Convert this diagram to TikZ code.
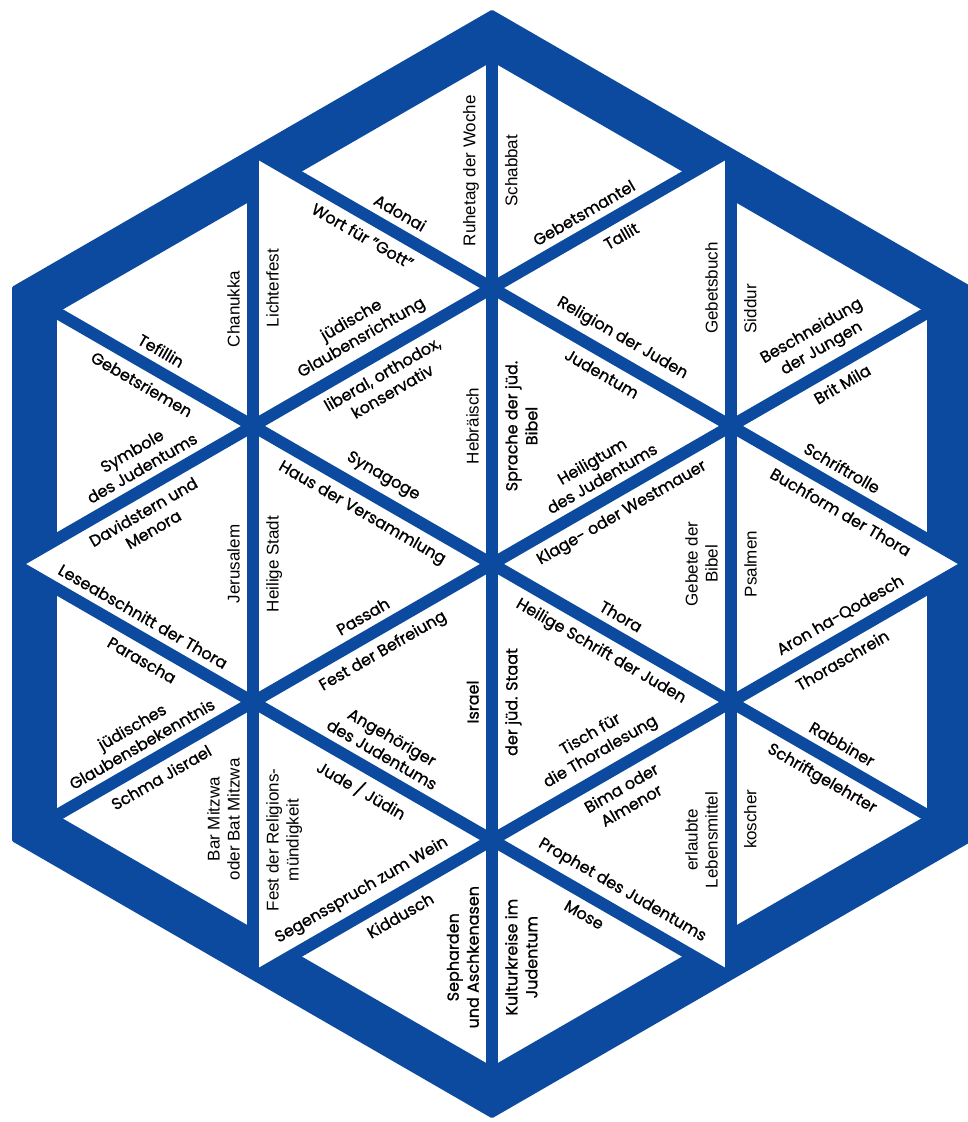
\documentclass[tikz,border=0pt]{standalone}
\usepackage{fontspec}
\setmainfont{Poppins}[FakeBold=1.0]
\newfontfamily\arialfam{Liberation Sans}
\usetikzlibrary{calc}
\definecolor{hexblue}{RGB}{12,74,160}
\newcounter{labc}
\newcommand\lab[7]{\stepcounter{labc}%
  \node[lab,#6,rotate=#4,anchor=#5] (lab\arabic{labc}) at ($(#1)!0.5!(#2)!13pt!(#3)$) {#7};}
\begin{document}
\begin{tikzpicture}[x=1pt,y=-1pt,
  lab/.style={inner sep=0pt, align=center, text=black, font=\fontsize{16}{20}\selectfont},
  arl/.style={font=\arialfam\fontsize{17}{20}\selectfont},
  gridline/.style={hexblue, line width=12pt},
  band/.style={hexblue, line width=86pt}]
\useasboundingbox (0,0) rectangle (968,1122);
\fill[white] (0,0) rectangle (968,1122);
\clip (0,0) rectangle (968,1122);
% grid points
\coordinate (T) at (492,12);
\coordinate (A1) at (253,150);
\coordinate (A3) at (731,150);
\coordinate (L1) at (14,288);
\coordinate (M2a) at (492,288);
\coordinate (R1) at (970,288);
\coordinate (X1b) at (253,426);
\coordinate (X3b) at (731,426);
\coordinate (L2) at (14,564);
\coordinate (C) at (492,564);
\coordinate (R2) at (970,564);
\coordinate (X1c) at (253,702);
\coordinate (X3c) at (731,702);
\coordinate (L3) at (14,840);
\coordinate (M2c) at (492,840);
\coordinate (R3) at (970,840);
\coordinate (X1d) at (253,978);
\coordinate (X3d) at (731,978);
\coordinate (B) at (492,1116);
% shifted points (visible part of outer triangles)
\coordinate (Ts) at ($(T)!44pt!(M2a)$);
\coordinate (A1s1) at ($(A1)!44pt!(M2a)$);
\coordinate (A3s2) at ($(A3)!44pt!(M2a)$);
\coordinate (A3s7) at ($(A3)!44pt!(X3b)$);
\coordinate (R1s) at ($(R1)!44pt!(X3b)$);
\coordinate (R2s8) at ($(R2)!44pt!(X3b)$);
\coordinate (R2s12) at ($(R2)!44pt!(X3c)$);
\coordinate (R3s) at ($(R3)!44pt!(X3c)$);
\coordinate (X3ds13) at ($(X3d)!44pt!(X3c)$);
\coordinate (X3ds15) at ($(X3d)!44pt!(M2c)$);
\coordinate (Bs) at ($(B)!44pt!(M2c)$);
\coordinate (X1ds16) at ($(X1d)!44pt!(M2c)$);
\coordinate (X1ds22) at ($(X1d)!44pt!(X1c)$);
\coordinate (L3s) at ($(L3)!44pt!(X1c)$);
\coordinate (L2s21) at ($(L2)!44pt!(X1c)$);
\coordinate (L2s24) at ($(L2)!44pt!(X1b)$);
\coordinate (L1s) at ($(L1)!44pt!(X1b)$);
\coordinate (A1s23) at ($(A1)!44pt!(X1b)$);
% hexagon
\begin{scope}
\clip (T)--(R1)--(R3)--(B)--(L3)--(L1)--cycle;
\fill[white] (T)--(R1)--(R3)--(B)--(L3)--(L1)--cycle;
\draw[gridline] (A1)--(X1d);
\draw[gridline] (T)--(B);
\draw[gridline] (A3)--(X3d);
\draw[gridline] (A1)--(R2);
\draw[gridline] (L1)--(R3);
\draw[gridline] (L2)--(X3d);
\draw[gridline] (L2)--(A3);
\draw[gridline] (L3)--(R1);
\draw[gridline] (X1d)--(R2);
\foreach \p/\q/\r in {T/A1/M2a, T/A3/M2a, A3/R1/X3b, R1/R2/X3b, R2/R3/X3c, R3/X3d/X3c,
                     X3d/B/M2c, B/X1d/M2c, X1d/L3/X1c, L3/L2/X1c, L2/L1/X1b, L1/A1/X1b}{
  \begin{scope}
  \clip (\p)--(\q)--(\r)--cycle;
  \draw[band] (\p)--(\q);
  \end{scope}
}
\end{scope}
\draw[hexblue, line width=4pt, line join=round] (T)--(R1)--(R3)--(B)--(L3)--(L1)--cycle;
% labels
% Tri 1
\lab{A1s1}{M2a}{T}{-30}{south}{}{Adonai}
\lab{Ts}{M2a}{A1}{90}{south}{arl}{Ruhetag der Woche}
% Tri 2
\lab{Ts}{M2a}{A3}{90}{north}{arl}{Schabbat}
\lab{A3s2}{M2a}{T}{30}{south}{}{Gebetsmantel}
% Tri 3
\lab{A1}{M2a}{X1b}{-30}{north}{}{Wort für "Gott"}
\lab{A1}{X1b}{M2a}{90}{north}{arl}{Lichterfest}
\lab{X1b}{M2a}{A1}{30}{south}{}{jüdische\\Glaubensrichtung}
% Tri 4
\lab{X1b}{M2a}{C}{30}{north}{}{liberal, orthodox,\\konservativ}
\lab{M2a}{C}{X1b}{90}{south}{arl}{Hebräisch}
\lab{X1b}{C}{M2a}{-30}{south}{}{Synagoge}
% Tri 5
\lab{M2a}{A3}{X3b}{30}{north}{}{Tallit}
\lab{A3}{X3b}{M2a}{90}{south}{arl}{Gebetsbuch}
\lab{M2a}{X3b}{A3}{-30}{south}{}{Religion der Juden}
% Tri 6
\lab{M2a}{X3b}{C}{-30}{north}{}{Judentum}
\lab{M2a}{C}{X3b}{90}{north}{}{Sprache der jüd.\\Bibel}
\lab{C}{X3b}{M2a}{30}{south}{}{Heiligtum\\des Judentums}
% Tri 7
\lab{A3s7}{X3b}{R1}{90}{north}{arl}{Siddur}
\lab{R1s}{X3b}{A3}{30}{south}{}{Beschneidung\\der Jungen}
% Tri 8
\lab{R1s}{X3b}{R2}{30}{north}{}{Brit Mila}
\lab{R2s8}{X3b}{R1}{-30}{south}{}{Schriftrolle}
% Tri 9
\lab{X3b}{R2}{X3c}{-30}{north}{}{Buchform der Thora}
\lab{X3b}{X3c}{R2}{90}{north}{arl}{Psalmen}
\lab{X3c}{R2}{X3b}{30}{south}{}{Aron ha-Qodesch}
% Tri 10
\lab{C}{X3b}{X3c}{30}{north}{}{Klage- oder Westmauer}
\lab{X3b}{X3c}{C}{90}{south}{arl}{Gebete der\\Bibel}
\lab{C}{X3c}{X3b}{-30}{south}{}{Thora}
% Tri 11
\lab{C}{X3c}{M2c}{-30}{north}{}{Heilige Schrift der Juden}
\lab{C}{M2c}{X3c}{90}{north}{}{der jüd. Staat}
\lab{M2c}{X3c}{C}{30}{south}{}{Tisch für\\die Thoralesung}
% Tri 12
\lab{R2s12}{X3c}{R3}{30}{north}{}{Thoraschrein}
\lab{R3s}{X3c}{R2}{-30}{south}{}{Rabbiner}
% Tri 13
\lab{R3s}{X3c}{X3d}{-30}{north}{}{Schriftgelehrter}
\lab{X3ds13}{X3c}{R3}{90}{north}{arl}{koscher}
% Tri 14
\lab{M2c}{X3c}{X3d}{30}{north}{}{Bima oder\\Almenor}
\lab{X3c}{X3d}{M2c}{90}{south}{arl}{erlaubte\\Lebensmittel}
\lab{M2c}{X3d}{X3c}{-30}{south}{}{Prophet des Judentums}
% Tri 15
\lab{X3ds15}{M2c}{B}{-30}{north}{}{Mose}
\lab{Bs}{M2c}{X3d}{90}{north}{}{Kulturkreise im\\Judentum}
% Tri 16
\lab{X1ds16}{M2c}{B}{30}{north}{}{Kiddusch}
\lab{Bs}{M2c}{X1d}{90}{south}{}{Sepharden\\und Aschkenasen}
% Tri 17
\lab{X1c}{M2c}{X1d}{-30}{north}{}{Jude / Jüdin}
\lab{X1c}{X1d}{M2c}{90}{north}{arl}{Fest der Religions-\\mündigkeit}
\lab{X1d}{M2c}{X1c}{30}{south}{}{Segensspruch zum Wein}
% Tri 18
\lab{X1c}{C}{M2c}{30}{north}{}{Fest der Befreiung}
\lab{C}{M2c}{X1c}{90}{south}{}{Israel}
\lab{X1c}{M2c}{C}{-30}{south}{}{Angehöriger\\des Judentums}
% Tri 19
\lab{X1b}{C}{X1c}{-30}{north}{}{Haus der Versammlung}
\lab{X1b}{X1c}{C}{90}{north}{arl}{Heilige Stadt}
\lab{X1c}{C}{X1b}{30}{south}{}{Passah}
% Tri 20
\lab{L2}{X1b}{X1c}{30}{north}{}{Davidstern und\\Menora}
\lab{X1b}{X1c}{L2}{90}{south}{arl}{Jerusalem}
\lab{L2}{X1c}{X1b}{-30}{south}{}{Leseabschnitt der Thora}
% Tri 21
\lab{L2s21}{X1c}{L3}{-30}{north}{}{Parascha}
\lab{L3s}{X1c}{L2}{30}{south}{}{jüdisches\\Glaubensbekenntnis}
% Tri 22
\lab{L3s}{X1c}{X1d}{30}{north}{}{Schma Jisrael}
\lab{X1ds22}{X1c}{L3}{90}{south}{arl}{Bar Mitzwa\\oder Bat Mitzwa}
% Tri 23
\lab{A1s23}{X1b}{L1}{90}{south}{arl}{Chanukka}
\lab{L1s}{X1b}{A1}{-30}{south}{}{Tefillin}
% Tri 24
\lab{L1s}{X1b}{L2}{-30}{north}{}{Gebetsriemen}
\lab{L2s24}{X1b}{L1}{30}{south}{}{Symbole\\des Judentums}
\end{tikzpicture}
\end{document}
